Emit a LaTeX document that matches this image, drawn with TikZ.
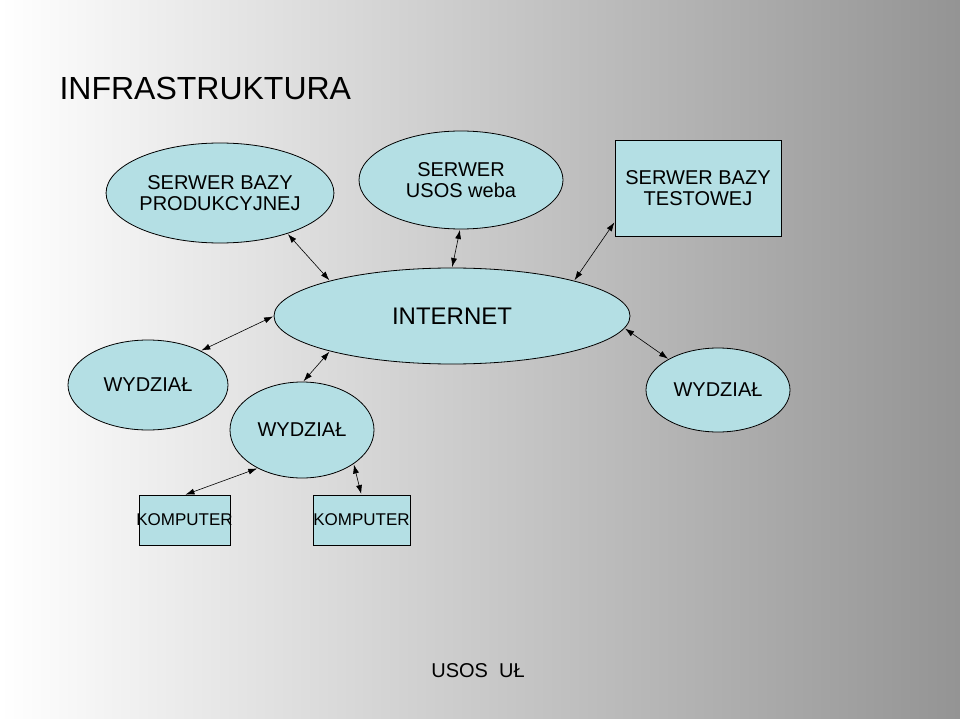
\documentclass[tikz,border=0pt]{standalone}
\usepackage{fontspec}
\setmainfont{Liberation Sans}
\usetikzlibrary{shapes.geometric,arrows.meta}
\definecolor{nodefill}{RGB}{180,223,228}
\begin{document}
\begin{tikzpicture}[x=1pt,y=-1pt,
  ell/.style={ellipse,draw=black,fill=nodefill,line width=0.8pt,inner sep=0pt,outer sep=0pt,align=center,font=\fontsize{20}{21}\selectfont},
  box/.style={rectangle,draw=black,fill=nodefill,line width=0.8pt,inner sep=0pt,outer sep=0pt,align=center,font=\fontsize{20}{21}\selectfont},
  link/.style={{Latex[length=9pt,width=6pt]}-{Latex[length=9pt,width=6pt]},line width=0.6pt,shorten <=1pt,shorten >=1pt}]
\shade[left color=white,right color=black!42] (0,0) rectangle (960,719);
\useasboundingbox (0,0) rectangle (960,719);
\node[anchor=west,font=\fontsize{32}{34}\selectfont] (title) at (56,88) {INFRASTRUKTURA};
\node[ell,minimum width=224pt,minimum height=100pt] (prod) at (220,193) {SERWER BAZY\\PRODUKCYJNEJ};
\node[ell,minimum width=204pt,minimum height=98pt] (usos) at (461,180) {SERWER\\USOS weba};
\node[box,minimum width=166pt,minimum height=96pt] (test) at (698,188) {SERWER BAZY\\TESTOWEJ};
\node[ell,minimum width=356pt,minimum height=96pt,font=\fontsize{24}{26}\selectfont] (inet) at (452,316) {INTERNET};
\node[ell,minimum width=160pt,minimum height=90pt] (w1) at (148,385) {WYDZIAŁ};
\node[ell,minimum width=144pt,minimum height=96pt] (w2) at (302,430) {WYDZIAŁ};
\node[ell,minimum width=144pt,minimum height=84pt] (w3) at (718,390) {WYDZIAŁ};
\node[box,text width=91pt,minimum height=50pt,font=\fontsize{17}{18}\selectfont] (k1) at (184.5,520) {\makebox[91pt]{KOMPUTER}};
\node[box,text width=97pt,minimum height=50pt,font=\fontsize{17}{18}\selectfont] (k2) at (361.5,520) {\makebox[97pt]{KOMPUTER}};
\node[font=\fontsize{20}{21}\selectfont] (foot) at (478,671) {USOS\ \ UŁ};
\draw[link] (prod.-31.5) -- (inet.164.4);
\draw[link] (usos.-91) -- (inet.90);
\draw[link] (test.-158) -- (inet.16.5);
\draw[link] (inet.180) -- (w1.33);
\draw[link] (inet.-164) -- (w2.89);
\draw[link] (inet.-4) -- (w3.148);
\draw[link] (w2.-139) -- (k1.north);
\draw[link] (w2.-33) -- (k2.north);
\end{tikzpicture}
\end{document}
